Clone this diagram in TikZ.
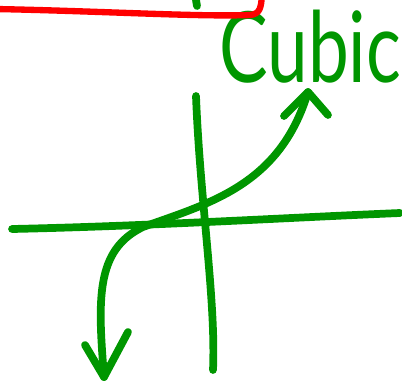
\documentclass[tikz,border=0pt]{standalone}
\usepackage{fontspec}
\setsansfont{Lato}
\usetikzlibrary{calc}
\definecolor{penGreen}{RGB}{0,150,0}
\definecolor{penRed}{RGB}{255,0,0}
\tikzset{
  greenStroke/.style={draw=penGreen, line width=5.5pt, line cap=round, line join=round},
  redStroke/.style={draw=penRed, line width=4.5pt, line cap=round, line join=round}
}
\begin{document}
\begin{tikzpicture}[x=0.025cm, y=-0.025cm]
        \useasboundingbox (0,0) rectangle (402,383);
        %
        \coordinate (xL) at (12,229);
        \coordinate (xR) at (400,213);
        \coordinate (yT) at (196,96);
        \coordinate (yB) at (213,370);
        \coordinate (topTip) at (308,92);
        \coordinate (botTip) at (104,377);

        %
        \node[text=penGreen, font=\sffamily\fontsize{70}{70}\selectfont, xscale=0.74, anchor=base west, inner sep=0pt] (label) at (219,82) {Cubic};

        %
        \draw[greenStroke] (xL) .. controls (150,226) and (280,218) .. (xR);
        \draw[greenStroke] (yT) .. controls (200,200) and (216,300) .. (yB);

        %
        \draw[greenStroke] (botTip) .. controls (98,300) and (95,250) .. (143,227)
          .. controls (210,203) and (280,185) .. (topTip);
        \draw[greenStroke] (85,345) -- (botTip) -- (128,332);
        \draw[greenStroke] (284,116) -- (topTip) -- (328,115);

        %
        \draw[greenStroke] (196,0) -- (197,6);
        \draw[redStroke] (-5,9) .. controls (100,11) and (200,17) .. (250,15)
          .. controls (260,14) and (261,8) .. (262,-5);
\end{tikzpicture}
\end{document}
